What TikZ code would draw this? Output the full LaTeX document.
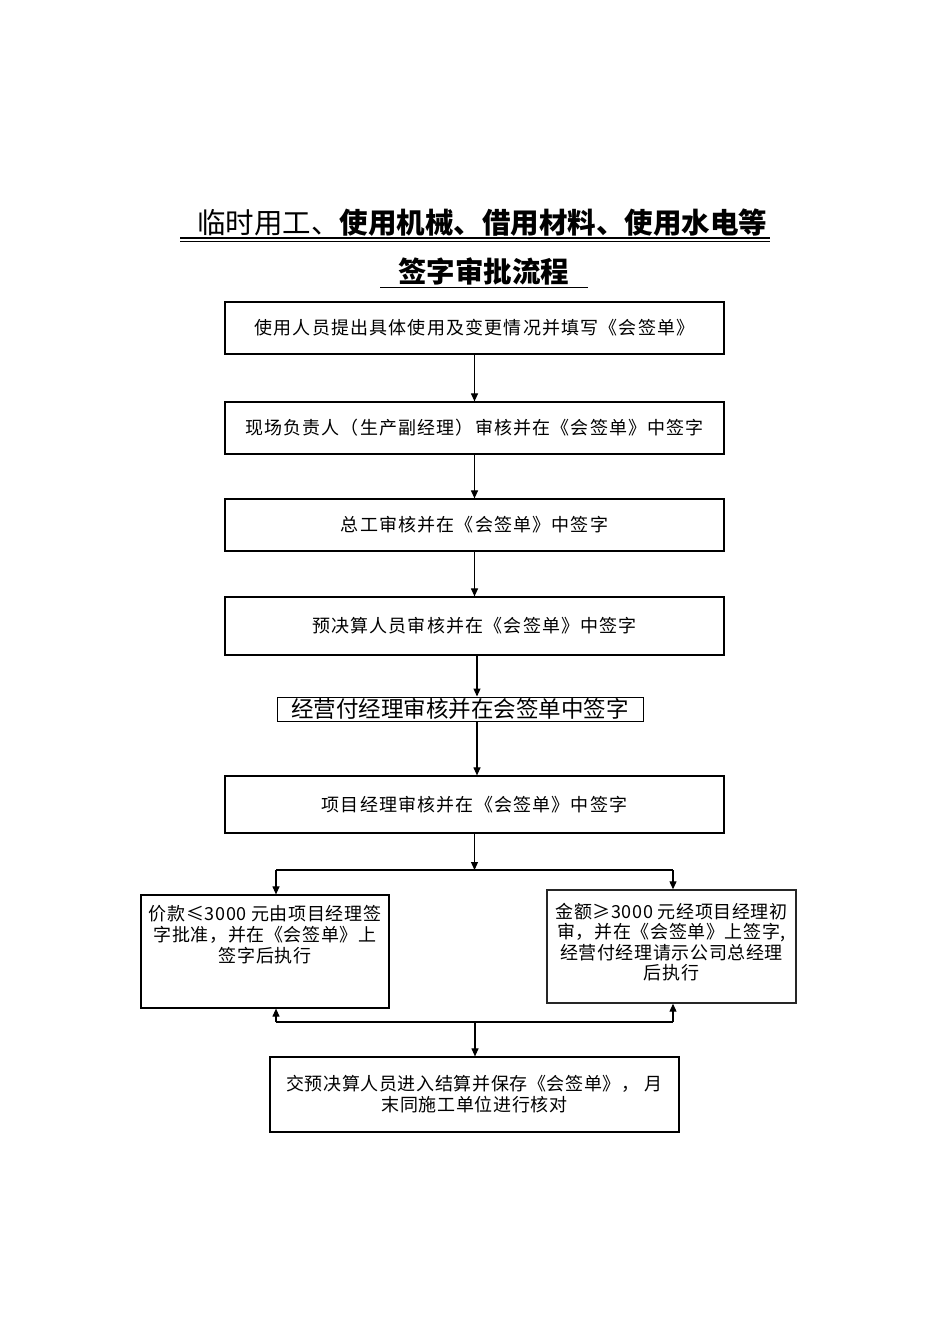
\documentclass[tikz,border=0pt]{standalone}
\usepackage{fontspec}
\setmainfont{Noto Sans CJK SC}
\newfontfamily\wideCJK[LetterSpace=6.5]{Noto Sans CJK SC}
\newfontfamily\midCJK[LetterSpace=3.5]{Noto Sans CJK SC}
\usetikzlibrary{arrows.meta}
\tikzset{
  box/.style={draw, line width=1.2pt, inner sep=0pt, align=center, font=\wideCJK\fontsize{18}{21}\selectfont},
  multitext/.style={anchor=north, inner sep=0pt, align=center, font=\midCJK\fontsize{18}{21}\selectfont},
  arr/.style={line width=1.1pt, -{Triangle[length=8pt,width=7pt]}},
  ln/.style={line width=1.1pt},
  ttl/.style={inner sep=0pt, anchor=base west, font=\fontsize{28.5}{32}\selectfont}
}
\begin{document}
\begin{tikzpicture}[x=1pt,y=-1pt]
\useasboundingbox (0,0) rectangle (950,1344);
% title
\node[ttl] (t1) at (197,233) {临时用工、\textbf{使用机械、借用材料、使用水电等}};
\node[ttl] (t2) at (398,282) {\textbf{签字审批流程}};
\draw[line width=1.8pt] (180,238) -- (770,238);
\draw[line width=0.8pt] (180,241.5) -- (770,241.5);
\draw[line width=1pt] (380,287) -- (588,287);
% boxes
\node[box, minimum width=499pt, minimum height=52pt] (b1) at (474.5,328) {使用人员提出具体使用及变更情况并填写《会签单》};
\node[box, minimum width=499pt, minimum height=52pt] (b2) at (474.5,428) {现场负责人（生产副经理）审核并在《会签单》中签字};
\node[box, minimum width=499pt, minimum height=52pt] (b3) at (474.5,525) {总工审核并在《会签单》中签字};
\node[box, minimum width=499pt, minimum height=58pt] (b4) at (474.5,626) {预决算人员审核并在《会签单》中签字};
\node[box, minimum width=366pt, minimum height=24pt, line width=1pt, font=\fontsize{22.5}{24}\selectfont] (b5) at (460,709) {经营付经理审核并在会签单中签字};
\node[box, minimum width=499pt, minimum height=57pt] (b6) at (474.5,804.5) {项目经理审核并在《会签单》中签字};
\node[box, minimum width=248pt, minimum height=113pt] (bl) at (265,951.5) {};
\node[multitext] (tl) at (bl.north |- 0,905) {价款≤3000 元由项目经理签\\字批准，并在《会签单》上\\签字后执行};
\node[box, minimum width=249pt, minimum height=113pt, line width=1.4pt, draw=black!85] (br) at (671.5,946.5) {};
\node[multitext, font=\midCJK\fontsize{18}{20.3}\selectfont] (tr) at (br.north |- 0,903) {金额≥3000 元经项目经理初\\审，并在《会签单》上签字,\\经营付经理请示公司总经理\\后执行};
\node[box, minimum width=409pt, minimum height=75pt, font=\midCJK\fontsize{18}{21}\selectfont] (b9) at (474.5,1094.5) {交预决算人员进入结算并保存《会签单》，\hspace{0.3em}月\\末同施工单位进行核对};
% connectors
\draw[arr] (b1.south) -- (b2.north);
\draw[arr] (b2.south) -- (b3.north);
\draw[arr] (b3.south) -- (b4.north);
\draw[arr] ([xshift=2.5pt]b4.south) -- ([xshift=2.5pt]b4.south |- b5.north);
\draw[arr] ([xshift=2.5pt]b4.south |- b5.south) -- ([xshift=2.5pt]b4.south |- b6.north);
\coordinate (jl) at (276,870);
\coordinate (jr) at (673,870);
\draw[arr] (b6.south) -- (b6.south |- jl);
\draw[ln] (jl) -- (jr);
\draw[arr] (jl) -- (jl |- bl.north);
\draw[arr] (jr) -- (jr |- br.north);
\coordinate (kl) at (276,1022);
\coordinate (kr) at (673,1022);
\coordinate (km) at (475,1022);
\draw[arr] (kl) -- (kl |- bl.south);
\draw[arr] (kr) -- (kr |- br.south);
\draw[ln] (kl) -- (kr);
\draw[arr] (km) -- (km |- b9.north);
\end{tikzpicture}
\end{document}
